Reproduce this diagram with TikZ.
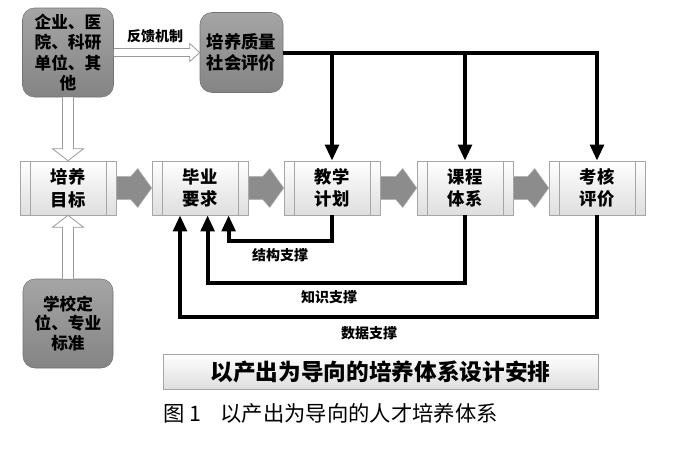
\documentclass[tikz,border=0pt]{standalone}
\usepackage{fontspec}
\setmainfont{Noto Sans CJK SC}
\usetikzlibrary{arrows.meta,calc}

\definecolor{rimgray}{RGB}{115,115,115}
\definecolor{topgray}{RGB}{165,165,165}
\definecolor{lowgray}{RGB}{132,132,132}
\definecolor{flowgray}{RGB}{140,140,140}
\definecolor{palegray}{RGB}{222,222,222}

\tikzset{
  party/.style={draw=rimgray, rounded corners=9pt, top color=topgray, bottom color=lowgray,
    align=center, inner sep=0pt},
  stage/.style={draw=gray!70, top color=white, bottom color=palegray, minimum width=72pt,
    minimum height=40.5pt, align=center, font=\fontsize{13}{17}\selectfont\bfseries,
    path picture={
      \draw[gray!70] ([xshift=7.5pt]path picture bounding box.north west)
        -- ([xshift=7.5pt]path picture bounding box.south west);
      \draw[gray!70] ([xshift=-7.5pt]path picture bounding box.north east)
        -- ([xshift=-7.5pt]path picture bounding box.south east);}},
  hollow/.style={draw=gray!80, fill=white, line width=0.6pt},
  flow/.style={fill=flowgray, draw=gray!60, line width=0.4pt},
  feed/.style={line width=3pt, -{Triangle[width=10pt,length=12pt]}},
  tag/.style={font=\fontsize{10.5}{12}\selectfont\bfseries},
}

\begin{document}
\begin{tikzpicture}[x=0.75pt,y=-0.75pt]
    \useasboundingbox (0,0) rectangle (700,457);
    % outside parties
    \node[party, minimum width=68.25pt, minimum height=66.75pt,
        font=\fontsize{12.5}{15.4}\selectfont\bfseries] (src) at (68,52.5) {企业、医\\院、科研\\单位、其\\他};
    \node[party, minimum width=62.25pt, minimum height=60pt,
        font=\fontsize{13}{16}\selectfont\bfseries] (eval) at (241.5,52.5) {培养质量\\社会评价};
    \node[party, minimum width=67.5pt, minimum height=66.75pt,
        font=\fontsize{12.5}{14.5}\selectfont\bfseries] (school) at (68,323.5) {学校定\\位、专业\\标准};

    % main chain
    \node[stage] (goal) at (68,188) {培养\\目标};
    \node[stage] (req) at (200,188) {毕业\\要求};
    \node[stage] (plan) at (332,188) {教学\\计划};
    \node[stage] (course) at (465,188) {课程\\体系};
    \node[stage] (assess) at (597,188) {考核\\评价};

    \foreach \a/\b in {goal/req, req/plan, plan/course, course/assess}
        \draw[flow] ($(\a.east)+(0,-11.5)$) -- ($(\b.west)+(-21,-11.5)$) -- ($(\b.west)+(-14,-19.5)$)
            -- (\b.west) -- ($(\b.west)+(-14,19.5)$) -- ($(\b.west)+(-21,11.5)$)
            -- ($(\a.east)+(0,11.5)$) -- cycle;

    % hollow arrows
    \draw[hollow] ($(src.south)+(-5.5,0)$) -- ($(goal.north)+(-5.5,-12)$) -- ($(goal.north)+(-15.5,-12)$)
        -- (goal.north) -- ($(goal.north)+(15.5,-12)$) -- ($(goal.north)+(5.5,-12)$)
        -- ($(src.south)+(5.5,0)$);
    \draw[hollow] ($(school.north)+(-5.5,0)$) -- ($(goal.south)+(-5.5,12)$) -- ($(goal.south)+(-15.5,12)$)
        -- (goal.south) -- ($(goal.south)+(15.5,12)$) -- ($(goal.south)+(5.5,12)$)
        -- ($(school.north)+(5.5,0)$);
    \draw[hollow] ($(src.east)+(0,-4)$) -- ($(eval.west)+(-10,-4)$) -- ($(eval.west)+(-10,-9)$)
        -- (eval.west) -- ($(eval.west)+(-10,9)$) -- ($(eval.west)+(-10,4)$)
        -- ($(src.east)+(0,4)$);
    \node[tag] (fbtag) at (155,36) {反馈机制};

    % feedback down
    \draw[feed] (eval.east) -| (assess.north);
    \draw[feed] (eval.east -| plan.north) -- (plan.north);
    \draw[feed] (eval.east -| course.north) -- (course.north);

    % support back
    \coordinate (s1) at (228.6,241);
    \coordinate (s2) at (207.6,283);
    \coordinate (s3) at (180,317);
    \draw[feed] (plan.south) |- (s1) -- (s1 |- req.south);
    \draw[feed] (course.south) |- (s2) -- (s2 |- req.south);
    \draw[feed] (assess.south) |- (s3) -- (s3 |- req.south);
    \node[tag] (stag) at (280,255) {结构支撑};
    \node[tag] (ktag) at (329,297) {知识支撑};
    \node[tag] (dtag) at (369,333) {数据支撑};

    \node[draw=gray!70, top color=white, bottom color=palegray, minimum width=326.25pt,
        minimum height=26.25pt, font=\fontsize{17}{20}\selectfont\bfseries] (title) at (380.5,371.5)
        {以产出为导向的培养体系设计安排};
    \node[anchor=west, inner sep=0pt, font=\fontsize{16}{18}\selectfont] (cap) at (163,413)
        {图 1\hspace{0.9em}以产出为导向的人才培养体系};
\end{tikzpicture}
\end{document}
